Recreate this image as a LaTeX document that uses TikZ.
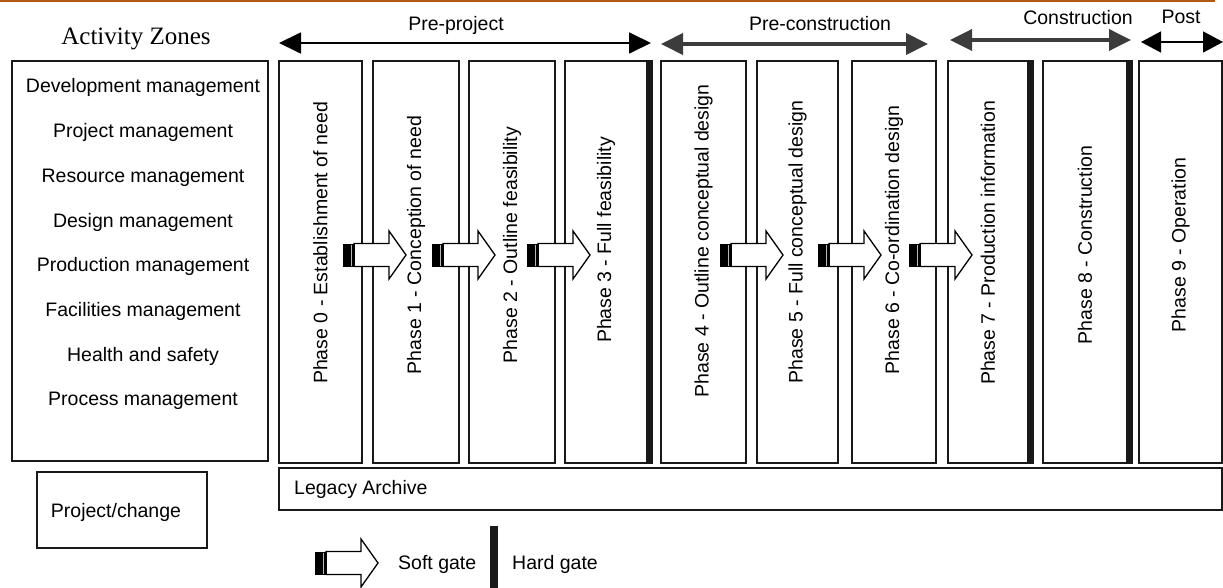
\documentclass[tikz,border=0pt]{standalone}
\usepackage{fontspec}
\usepackage{xcolor}
\usepackage{tikz}
\usetikzlibrary{arrows.meta, positioning}

\newfontfamily\lsans{Liberation Sans}
\newfontfamily\lserif{Liberation Serif}
\definecolor{rimline}{RGB}{176,90,20}
\definecolor{spanarrow}{RGB}{60,60,60}

% soft gate: tail x, centre y
\newcommand{\softgate}[2]{%
  \begin{scope}[shift={(#1,#2)}]
    \filldraw[fill=white, draw=black, line width=1.3pt]
      (11,-11.5) -- (46,-11.5) -- (46,-24) -- (63,0) -- (46,24) -- (46,11.5) -- (11,11.5) -- cycle;
    \fill[black] (0,-11.5) rectangle (12,11.5);
    \draw[gray!55, line width=1.3pt] (8.5,-10.5) -- (8.5,10.5);
  \end{scope}}

\begin{document}
\begin{tikzpicture}[
  x=1pt, y=-1pt,
  txt/.style={font=\lsans\fontsize{19.5}{23}\selectfont, inner sep=0pt},
  box/.style={rectangle, draw=black!90, line width=2pt, inner sep=0pt},
  phaselabel/.style={txt, rotate=90},
  hardgate/.style={fill=black!90},
  span/.style={{Triangle[length=22pt,width=21pt]}-{Triangle[length=22pt,width=21pt]}}
]
  \useasboundingbox (0,0) rectangle (1223,588);
  \draw[rimline, line width=1.6pt] (0,0.8) -- (1215,0.8);

  % activity zones
  \node[font=\lserif\fontsize{25}{28}\selectfont, anchor=base, inner sep=0pt] (zt) at (136,45) {Activity Zones};
  \node[box, minimum width=256pt, minimum height=400pt] (zones) at (140,261) {};
  \foreach \i/\name in {0/Development management, 1/Project management, 2/Resource management,
      3/Design management, 4/Production management, 5/Facilities management,
      6/Health and safety, 7/Process management}
    \node[txt, anchor=base] (z\i) at (143,{93+44.7*\i}) {\name};

  \node[box, minimum width=170pt, minimum height=76pt] (change) at (122,510) {};
  \node[txt, anchor=base] (changet) at (116,517) {Project/change};

  % phases
  \foreach \i/\l/\r/\ty/\name in {
      0/279/362/243/Phase 0 - Establishment of need,
      1/373/459/245/Phase 1 - Conception of need,
      2/469/555/245/Phase 2 - Outline feasibility,
      3/565/647/240/Phase 3 - Full feasibility,
      4/661/746/241/Phase 4 - Outline conceptual design,
      5/757/838/242/Phase 5 - Full conceptual design,
      6/852/936/240/Phase 6 - Co-ordination design,
      7/948/1028/243/Phase 7 - Production information,
      8/1043/1127/245/Phase 8 - Construction,
      9/1139/1222/245/Phase 9 - Operation} {
    \node[box, minimum width={(\r-\l)*1pt}, minimum height=402pt] (p\i) at ({(\l+\r)/2},262) {};
    \node[phaselabel] (pl\i) at ({(\l+\r)/2},\ty) {\name};
  }

  % hard gates
  \foreach \i in {3,7,8}
    \fill[hardgate] ([xshift=-1pt]p\i.north east) rectangle ([xshift=5pt]p\i.south east);

  % soft gates
  \foreach \gx in {343,432,527,720,818,909} {
    \softgate{\gx}{255}
  }

  % legacy archive
  \node[box, minimum width=943pt, minimum height=42pt] (legacy) at (750.5,489) {};
  \node[txt, anchor=base west] (legacyt) at (294,494) {Legacy Archive};

  % stage spans
  \coordinate (pp-l) at (279,43);  \coordinate (pp-r) at (651,43);
  \coordinate (pc-l) at (661,44);  \coordinate (pc-r) at (928,44);
  \coordinate (co-l) at (950,40);  \coordinate (co-r) at (1131,40);
  \coordinate (po-l) at (1141,42); \coordinate (po-r) at (1223,42);
  \draw[span, line width=1.8pt] (pp-l) -- (pp-r);
  \draw[span, spanarrow, line width=4pt] (pc-l) -- (pc-r);
  \draw[span, spanarrow, line width=3.6pt] (co-l) -- (co-r);
  \draw[{Triangle[length=20pt,width=21pt]}-{Triangle[length=20pt,width=21pt]}, line width=1.6pt] (po-l) -- (po-r);
  \node[txt, anchor=base] (ppt) at (456,31) {Pre-project};
  \node[txt, anchor=base] (pct) at (820,31) {Pre-construction};
  \node[txt, anchor=base] (cot) at (1078,25) {Construction};
  \node[txt, anchor=base] (pot) at (1181,24) {Post};

  % legend
  \softgate{315}{563}
  \node[txt, anchor=base west] (softt) at (398,569) {Soft gate};
  \fill[hardgate] (490,526) rectangle (498,588);
  \node[txt, anchor=base west] (hardt) at (512,569) {Hard gate};
\end{tikzpicture}
\end{document}
